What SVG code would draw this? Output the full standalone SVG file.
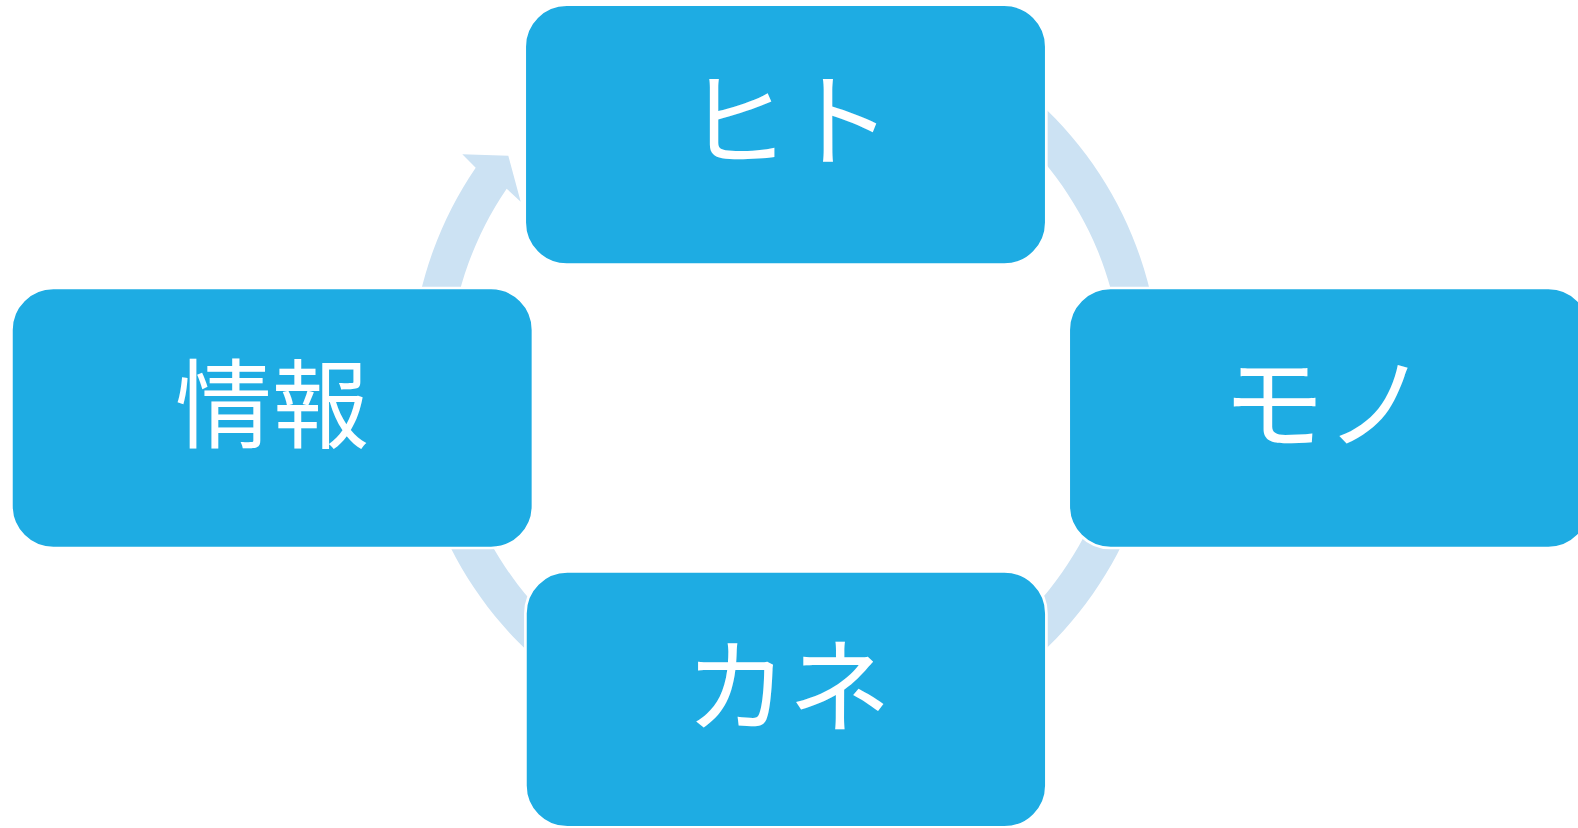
<svg xmlns="http://www.w3.org/2000/svg" width="1578" height="828" viewBox="0 0 1578 828">
  <style>
    .box { fill: #1EACE3; stroke: #FFFFFF; stroke-width: 2.7; }
    .lbl { fill: #FFFFFF; font-family: "Noto Sans CJK JP", "Noto Sans", sans-serif; font-size: 97px; text-anchor: middle; }
    .kana { font-size: 103px; }
    .ring { fill: #CCE2F3; stroke: none; }
  </style>
  <rect x="0" y="0" width="1578" height="828" fill="#FFFFFF"/>
  <g id="connectors">
    <path class="ring" d="M 544.45 91.73 A 375 375 0 1 1 475.71 167.68 L 462.3 154.3 L 508.3 155.7 L 520.7 201.7 L 506.69 188.81 A 337.5 337.5 0 1 0 568.56 120.46 Z"/>
  </g>
  <g id="node-hito">
    <rect class="box" x="524.7" y="4.7" width="521.6" height="259.9" rx="42" ry="42"/>
    <text class="lbl kana" x="789" y="159">ヒト</text>
  </g>
  <g id="node-mono">
    <rect class="box" x="1068.7" y="288" width="521.6" height="260" rx="42" ry="42"/>
    <text class="lbl kana" x="1325" y="442">モノ</text>
  </g>
  <g id="node-kane">
    <rect class="box" x="525.4" y="571.4" width="521" height="256" rx="42" ry="42"/>
    <text class="lbl kana" x="788" y="725">カネ</text>
  </g>
  <g id="node-joho">
    <rect class="box" x="11.4" y="288" width="521.6" height="260" rx="42" ry="42"/>
    <text class="lbl" x="272" y="440">情報</text>
  </g>
</svg>
